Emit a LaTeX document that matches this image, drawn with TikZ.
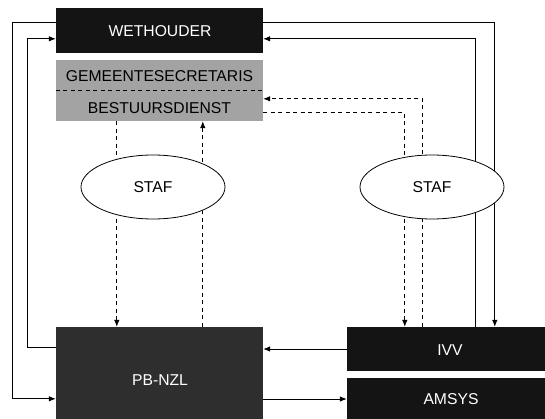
\documentclass[tikz,border=0pt]{standalone}
\usepackage{fontspec}
\setmainfont{Liberation Sans}
\usetikzlibrary{shapes.geometric,arrows.meta,calc}
\begin{document}
\begin{tikzpicture}[x=1pt,y=-1pt,
  every node/.style={font=\fontsize{15.7}{18}\selectfont},
  darkbox/.style={rectangle,draw=none,fill=black!92,inner sep=0pt,anchor=center},
  graybox/.style={rectangle,draw=none,fill=black!36,inner sep=0pt,anchor=center},
  pbbox/.style={rectangle,draw=none,fill=black!82,inner sep=0pt,anchor=center},
  wlabel/.style={text=white,inner sep=0pt},
  blabel/.style={text=black,inner sep=0pt},
  staf/.style={ellipse,draw,fill=white,line width=0.8pt,minimum width=144pt,minimum height=64pt,inner sep=0pt},
  conn/.style={line width=0.8pt},
  arr/.style={conn,-{Latex[length=7pt,width=5.5pt]}},
  darr/.style={arr,dash pattern=on 4pt off 3.5pt},
  dline/.style={conn,dash pattern=on 4pt off 3.5pt}]
\useasboundingbox (0,0) rectangle (545,419);
\fill[white] (0,0) rectangle (545,419);
% boxes
\node[darkbox,minimum width=207pt,minimum height=45pt] (wet) at (159.5,30.5) {};
\node[wlabel] (wett) at (160,31) {WETHOUDER};
\node[graybox,minimum width=207pt,minimum height=61pt] (gem) at (159.5,90.5) {};
\node[blabel] (gemt1) at (159.5,76) {GEMEENTESECRETARIS};
\node[blabel] (gemt2) at (159.5,108) {BESTUURSDIENST};
\draw[dline] (gem.west) -- (gem.east);
\node[pbbox,minimum width=207pt,minimum height=98pt] (pb) at (159.5,376) {};
\node[wlabel] (pbt) at (160,380) {PB-NZL};
\node[darkbox,minimum width=203pt,minimum height=44pt] (ivv) at (448.5,349) {};
\node[wlabel] (ivvt) at (450,350) {IVV};
\node[darkbox,minimum width=203pt,minimum height=42pt] (ams) at (448.5,399) {};
\node[wlabel] (amst) at (451,399) {AMSYS};
% left connectors
\draw[arr] ($(wet.north west)+(0,15)$) -- ++(-43,0) |- ($(pb.north west)+(0,72)$);
\draw[arr] ($(pb.north west)+(0,21)$) -- ++(-28,0) |- ($(wet.north west)+(0,31)$);
% right connectors
\draw[arr] ($(wet.north east)+(0,15)$) -| ($(ivv.north west)+(148,0)$);
\draw[arr] ($(ivv.north west)+(129,0)$) |- ($(wet.north east)+(0,31)$);
\draw[darr] ($(gem.north east)+(0,53)$) -| ($(ivv.north west)+(58,0)$);
\draw[darr] ($(ivv.north west)+(76,0)$) |- ($(gem.north east)+(0,39)$);
% vertical dashed left
\draw[darr] ($(gem.south west)+(61,0)$) -- ($(pb.north west)+(61,0)$);
\draw[darr] ($(pb.north west)+(147,0)$) -- ($(gem.south west)+(147,0)$);
% bottom connectors
\draw[arr] (ivv.west) -- (ivv.west -| pb.east);
\draw[arr] (pb.east |- ams.west) -- (ams.west);
% ellipses
\node[staf] (staf1) at (153,187) {STAF};
\node[staf] (staf2) at (432,187) {STAF};
\end{tikzpicture}
\end{document}
